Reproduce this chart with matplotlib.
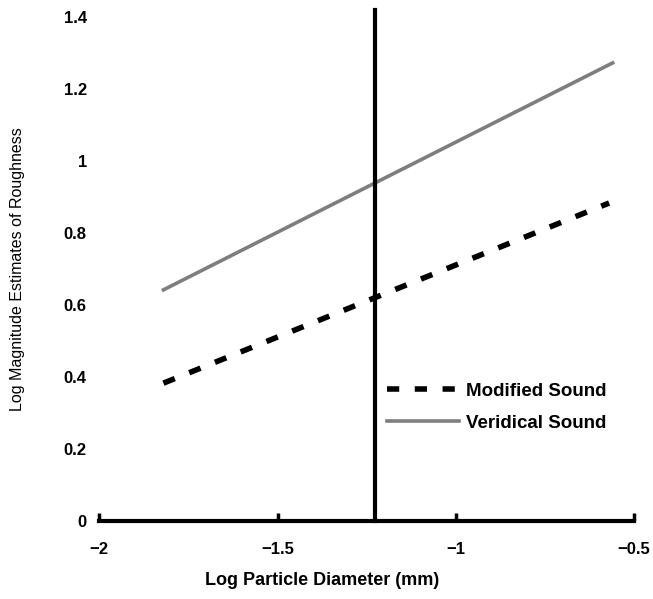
import numpy as np
import matplotlib.pyplot as plt

# line endpoints
x_mod = [-1.82, -0.57]
y_mod = [0.383, 0.883]
x_ver = [-1.82, -0.56]
y_ver = [0.642, 1.272]
x_cut = -1.226

xticks = [-2, -1.5, -1, -0.5]
xticklabels = ['\u22122', '\u22121.5', '\u22121', '\u22120.5']
yticks = [0, 0.2, 0.4, 0.6, 0.8, 1.0, 1.2, 1.4]
yticklabels = ['0', '0.2', '0.4', '0.6', '0.8', '1', '1.2', '1.4']

plt.rcParams['font.family'] = ['Liberation Sans', 'DejaVu Sans']

fig = plt.figure(figsize=(6.53, 5.99), dpi=100)
ax = fig.add_axes([0.152, 0.130, 0.819, 0.842])

ax.plot(x_mod, y_mod, color='black', lw=4, ls=(0, (2.2, 2.8)), dash_capstyle='butt',
        label='Modified Sound')
ax.plot(x_ver, y_ver, color='#7e7e7e', lw=2.6, label='Veridical Sound')
ax.plot([x_cut, x_cut], [0, 1.42], color='black', lw=3, clip_on=False)

ax.set_xlim(-2, -0.5)
ax.set_ylim(0, 1.4)
for s in ['left', 'top', 'right']:
    ax.spines[s].set_visible(False)
ax.spines['bottom'].set_linewidth(3)

ax.set_xticks(xticks)
ax.set_xticklabels(xticklabels, fontweight='bold', fontsize=12)
ax.set_yticks(yticks)
ax.set_yticklabels(yticklabels, fontweight='bold', fontsize=12)
ax.tick_params(axis='x', direction='in', length=6, width=2.5, pad=15)
ax.tick_params(axis='y', length=0, pad=9)

ax.set_xlabel('Log Particle Diameter (mm)', fontsize=13, fontweight='bold', labelpad=11,
              x=0.416)
ax.set_ylabel('Log Magnitude Estimates of Roughness', fontsize=11.5, labelpad=28)

leg = ax.legend(loc='upper left', bbox_to_anchor=(0.507, 0.308), frameon=False,
                handlelength=3.85, handletextpad=0.35, labelspacing=0.8,
                prop={'weight': 'bold', 'size': 13.5})

fig.savefig('out.png', dpi=100)
